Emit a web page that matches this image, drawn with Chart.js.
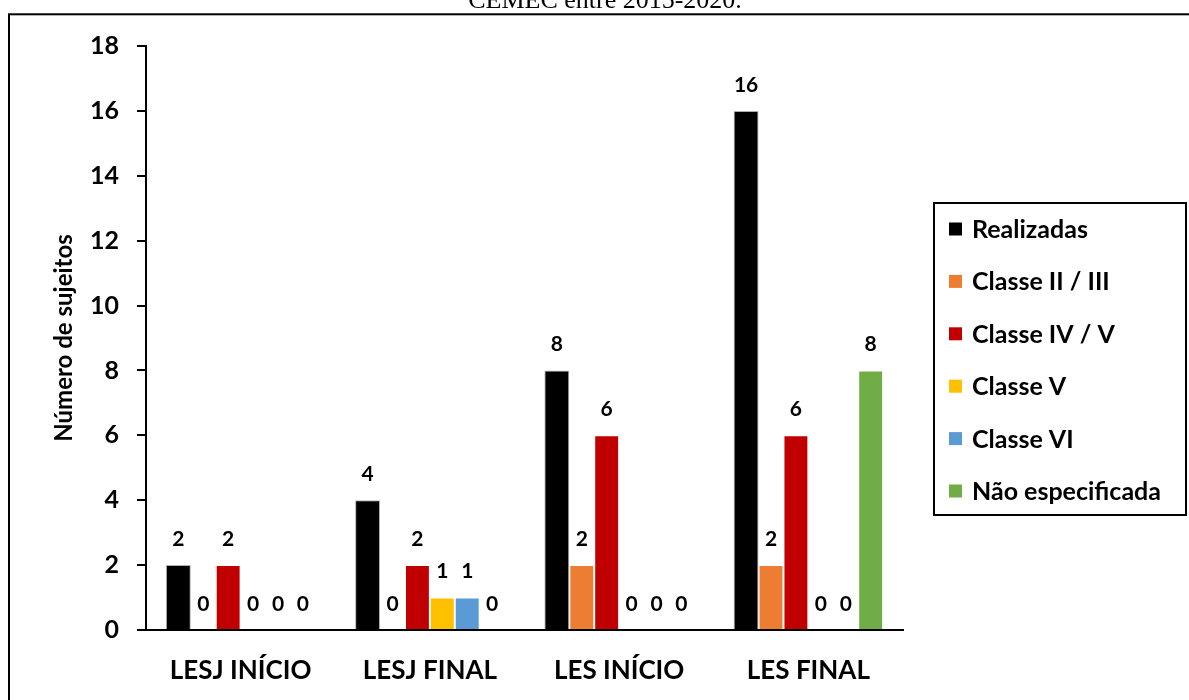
<!DOCTYPE html>
<html>
<head>
<meta charset="utf-8">
<script src="https://cdn.jsdelivr.net/npm/chart.js@4.4.1/dist/chart.umd.min.js"></script>
<style>
  html, body { margin: 0; padding: 0; background: #fff; overflow: hidden; }
  #wrap { position: relative; width: 1189px; height: 700px; }
</style>
</head>
<body>
<div id="wrap"><canvas id="c" width="1189" height="700"></canvas></div>
<script>
// Groups and series
const categories = ['LESJ INÍCIO', 'LESJ FINAL', 'LES INÍCIO', 'LES FINAL'];
const seriesNames = ['Realizadas', 'Classe II / III', 'Classe IV / V', 'Classe V', 'Classe VI', 'Não especificada'];
const realizadas      = [2, 4, 8, 16];
const classe2a3       = [0, 0, 2, 2];
const classe4a5       = [2, 2, 6, 6];
const classe5         = [0, 1, 0, 0];
const classe6         = [0, 1, 0, 0];
const naoEspecificada = [0, 0, 0, 8];
const yTickValues = [0, 2, 4, 6, 8, 10, 12, 14, 16, 18];
const seriesColors = ['#000000', '#ED7D31', '#C00000', '#FFC000', '#5B9BD5', '#70AD47'];
const yAxisTitle = 'Número de sujeitos';
const captionText = 'CEMEC entre 2015-2020.';

const seriesValues = [realizadas, classe2a3, classe4a5, classe5, classe6, naoEspecificada];
const FONT = 'Lato';

// White page, caption line and the frame around the figure
const framePlugin = {
  id: 'frame',
  beforeDraw(chart) {
    const ctx = chart.ctx;
    ctx.save();
    ctx.fillStyle = '#fff';
    ctx.fillRect(0, 0, chart.width, chart.height);
    ctx.fillStyle = '#000';
    ctx.font = '26px "Liberation Serif"';
    ctx.textAlign = 'center';
    ctx.textBaseline = 'alphabetic';
    ctx.fillText(captionText, 605, 8);
    ctx.strokeStyle = '#000';
    ctx.lineWidth = 2;
    ctx.strokeRect(9, 14.3, chart.width + 20, chart.height + 20);
    ctx.restore();
  }
};

// Value written above every bar
const valueLabels = {
  id: 'valueLabels',
  afterDatasetsDraw(chart) {
    const ctx = chart.ctx;
    ctx.save();
    ctx.fillStyle = '#000';
    ctx.font = 'bold 21px ' + FONT;
    ctx.textAlign = 'center';
    ctx.textBaseline = 'middle';
    chart.data.datasets.forEach((ds, i) => {
      const meta = chart.getDatasetMeta(i);
      meta.data.forEach((bar, j) => {
        ctx.fillText(String(ds.data[j]), bar.x, bar.y - 26);
      });
    });
    ctx.restore();
  }
};

// Boxed legend to the right of the plot
const boxedLegend = {
  id: 'boxedLegend',
  afterDraw(chart) {
    const ctx = chart.ctx;
    const box = { x: 934, y: 203, w: 252, h: 312 };
    ctx.save();
    ctx.strokeStyle = '#000';
    ctx.lineWidth = 2;
    ctx.strokeRect(box.x, box.y, box.w, box.h);
    ctx.font = 'bold 25px ' + FONT;
    ctx.textAlign = 'left';
    ctx.textBaseline = 'middle';
    chart.data.datasets.forEach((ds, i) => {
      const cy = 229 + i * 52.4;
      ctx.fillStyle = ds.backgroundColor;
      ctx.fillRect(949, cy - 6.5, 13, 13);
      ctx.fillStyle = '#000';
      ctx.fillText(ds.label, 972, cy + 1);
    });
    ctx.restore();
  }
};

const datasets = seriesNames.map((name, i) => ({
  label: name,
  data: seriesValues[i],
  backgroundColor: seriesColors[i],
  borderColor: i === 0 ? 'rgba(120,120,120,0.6)' : 'rgba(255,255,255,0.8)',
  borderWidth: 1,
  barPercentage: 1.0,
  categoryPercentage: 0.79
}));

new Chart(document.getElementById('c'), {
  type: 'bar',
  data: { labels: categories, datasets },
  options: {
    responsive: false,
    animation: false,
    devicePixelRatio: 1,
    layout: { padding: { left: 0, top: 46, right: 286, bottom: 0 } },
    plugins: {
      legend: { display: false },
      tooltip: { enabled: false }
    },
    scales: {
      x: {
        grid: { display: false, drawTicks: false },
        border: { display: true, color: '#000', width: 2 },
        ticks: {
          color: '#000',
          font: { family: FONT, size: 26, weight: 'bold' },
          padding: 25,
          maxRotation: 0
        },
        afterFit(scale) { scale.height = 70; }
      },
      y: {
        min: 0,
        max: 18,
        afterBuildTicks(scale) { scale.ticks = yTickValues.map(v => ({ value: v })); },
        grid: { drawOnChartArea: false, drawTicks: true, tickLength: 9, color: '#000', lineWidth: 2 },
        border: { display: true, color: '#000', width: 2 },
        ticks: {
          color: '#000',
          font: { family: FONT, size: 25, weight: 'bold' },
          padding: 18
        },
        title: {
          display: true,
          text: yAxisTitle,
          color: '#000',
          font: { family: FONT, size: 24, weight: 'bold' },
          padding: { top: 50, bottom: 0 }
        },
        afterFit(scale) { scale.width = 146; }
      }
    }
  },
  plugins: [framePlugin, valueLabels, boxedLegend]
});
</script>
</body>
</html>
